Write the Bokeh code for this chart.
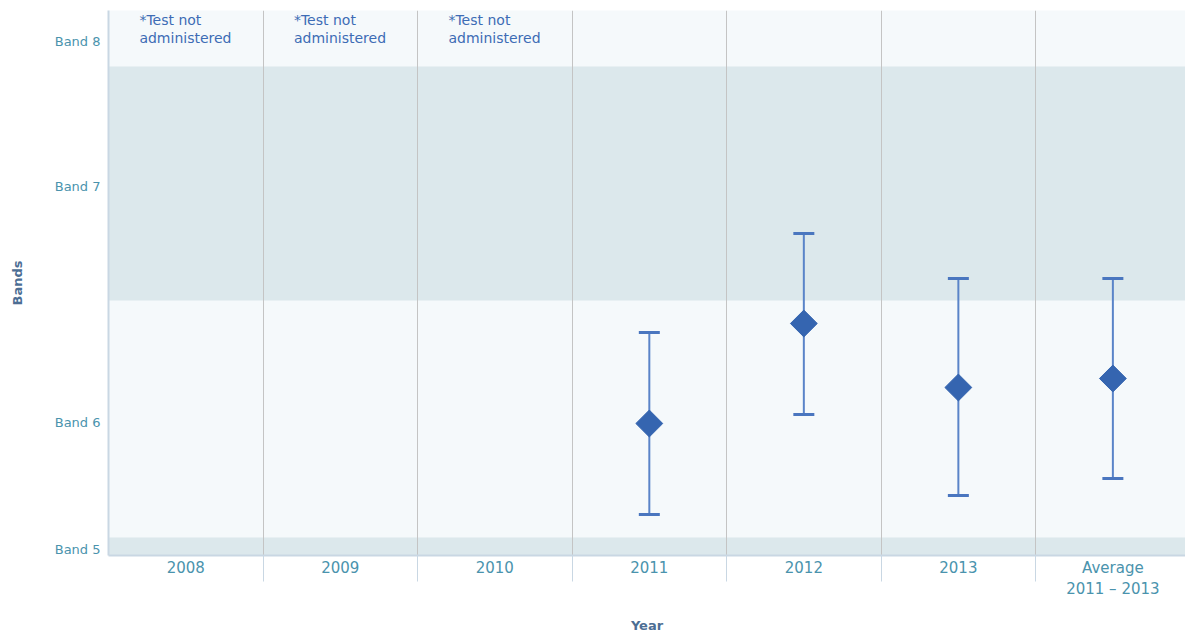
import math
from bokeh.plotting import figure
from bokeh.models import FixedTicker, Range1d, ColumnDataSource
from bokeh.core.properties import value
from bokeh.embed import file_html
from bokeh.resources import INLINE

# ---- data ----
categories = ["2008", "2009", "2010", "2011", "2012", "2013", "Average\n2011 – 2013"]
measured = ["2011", "2012", "2013", "Average\n2011 – 2013"]
mean_score = [132, 232, 168, 177]
upper_score = [223, 322, 277, 277]
lower_score = [41, 141, 60, 77]
not_administered = ["2008", "2009", "2010"]
note_text = "*Test not\nadministered"
band_labels = ["Band 5", "Band 6", "Band 7", "Band 8"]
band_tick_values = [6, 133, 369, 514]
shaded_bottom = [0, 255]
shaded_top = [18, 489]
score_min, score_max = 0, 545

# ---- styling ----
LIGHT = "#f5f9fb"
DARK = "#dce8ec"
TICK_COL = "#4a93ad"
TITLE_COL = "#4d6e94"
AXIS_COL = "#c9d7e3"
MARK_COL = "#3565b0"
BAR_COL = "#5a84c8"
CAP_COL = "#4a76bf"
FONT = "DejaVu Sans"

ncat = len(categories)
centers = [i + 0.5 for i in range(ncat)]
boundaries = [i for i in range(1, ncat)]

# the last column is slightly cut off at the right edge in the reference
p = figure(width=1185, height=636, x_range=Range1d(0, ncat - 0.03),
           y_range=Range1d(score_min, score_max),
           output_backend="svg", toolbar_location=None,
           min_border_left=108, min_border_right=0, min_border_top=10,
           min_border_bottom=81)
p.background_fill_color = LIGHT
p.border_fill_color = "white"
p.outline_line_color = None

# shaded bands
p.quad(left=[0] * len(shaded_bottom), right=[ncat] * len(shaded_bottom),
       bottom=shaded_bottom, top=shaded_top, fill_color=DARK, line_color=None)

# grid
p.ygrid.visible = False
p.xgrid.ticker = FixedTicker(ticks=boundaries)
p.xgrid.grid_line_color = "#c4c4c4"
p.xgrid.grid_line_width = 1
p.xgrid.level = "glyph"

# x axis
xa = p.xaxis[0]
xa.ticker = FixedTicker(ticks=centers, minor_ticks=boundaries)
xa.major_label_overrides = {c: lab for c, lab in zip(centers, categories)}
xa.major_tick_line_color = None
xa.major_tick_out = 0
xa.major_tick_in = 0
xa.minor_tick_out = 26
xa.minor_tick_in = 0
xa.minor_tick_line_color = AXIS_COL
xa.axis_line_color = AXIS_COL
xa.axis_line_width = 2
xa.major_label_text_color = TICK_COL
xa.major_label_text_font = FONT
xa.major_label_text_font_size = "15px"
xa.major_label_standoff = -23
xa.axis_label = "Year"
xa.axis_label_text_color = TITLE_COL
xa.axis_label_text_font = FONT
xa.axis_label_text_font_size = "13px"
xa.axis_label_text_font_style = "bold"
xa.axis_label_standoff = 17

# y axis
ya = p.yaxis[0]
ya.ticker = FixedTicker(ticks=band_tick_values)
ya.major_label_overrides = {v: lab for v, lab in zip(band_tick_values, band_labels)}
ya.major_tick_line_color = None
ya.major_tick_out = 0
ya.major_tick_in = 0
ya.minor_tick_line_color = None
ya.axis_line_color = AXIS_COL
ya.axis_line_width = 2
ya.major_label_text_color = TICK_COL
ya.major_label_text_font = FONT
ya.major_label_text_font_size = "13px"
ya.major_label_standoff = 8
ya.axis_label = "Bands"
ya.axis_label_text_color = TITLE_COL
ya.axis_label_text_font = FONT
ya.axis_label_text_font_size = "13px"
ya.axis_label_text_font_style = "bold"
ya.axis_label_standoff = 27

# error bars and means
xs = [categories.index(c) + 0.5 for c in measured]
src = ColumnDataSource(dict(x=xs, mean=mean_score, upper=upper_score, lower=lower_score))
p.segment(x0="x", y0="lower", x1="x", y1="upper", source=src,
          line_color=BAR_COL, line_width=2)
p.scatter(x="x", y="upper", source=src, marker="dash", size=21,
          line_color=CAP_COL, line_width=3)
p.scatter(x="x", y="lower", source=src, marker="dash", size=21,
          line_color=CAP_COL, line_width=3)
p.scatter(x="x", y="mean", source=src, marker="square", angle=math.pi / 4,
          size=19, fill_color=MARK_COL, line_color=MARK_COL)

# notes
nx = [categories.index(c) + 0.2 for c in not_administered]
p.text(x=nx, y=[score_max - 1] * len(nx), text=[note_text] * len(nx),
       text_font=value(FONT), text_font_size="14px", text_color="#3d6cb5",
       text_baseline="top", text_align="left", text_line_height=1.15)

open("out.html", "w").write(file_html(p, INLINE))
